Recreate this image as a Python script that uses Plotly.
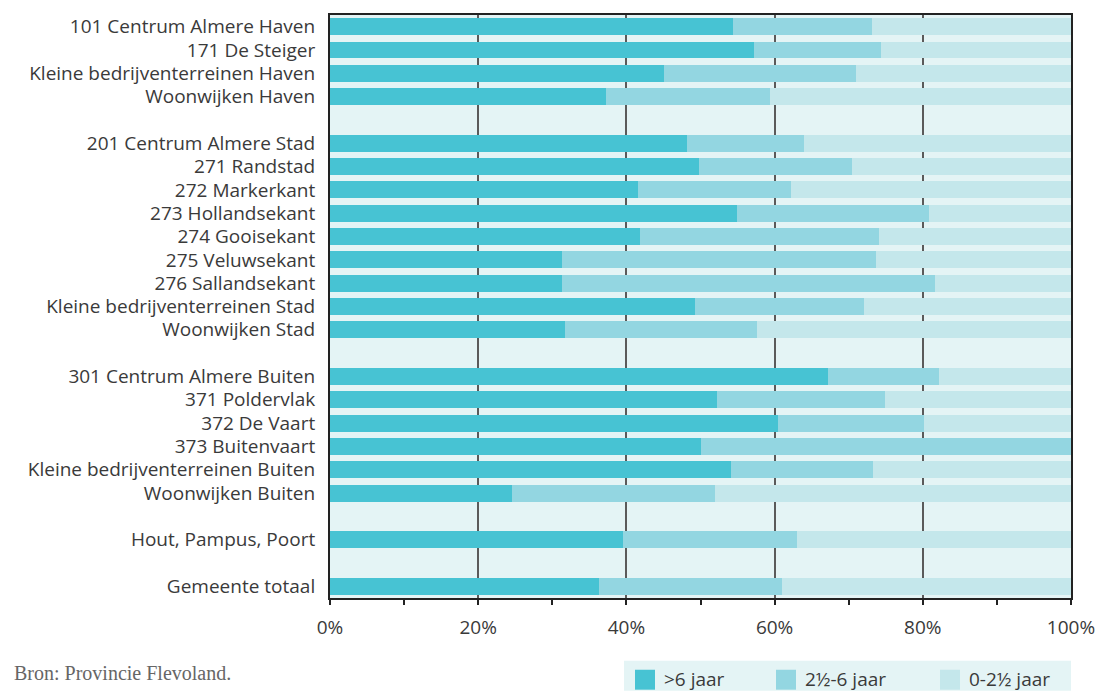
import plotly.graph_objects as go

# categories top to bottom, blanks are the group gaps
categories = [
    '101 Centrum Almere Haven', '171 De Steiger', 'Kleine bedrijventerreinen Haven', 'Woonwijken Haven',
    ' ',
    '201 Centrum Almere Stad', '271 Randstad', '272 Markerkant', '273 Hollandsekant', '274 Gooisekant',
    '275 Veluwsekant', '276 Sallandsekant', 'Kleine bedrijventerreinen Stad', 'Woonwijken Stad',
    '  ',
    '301 Centrum Almere Buiten', '371 Poldervlak', '372 De Vaart', '373 Buitenvaart',
    'Kleine bedrijventerreinen Buiten', 'Woonwijken Buiten',
    '   ',
    'Hout, Pampus, Poort',
    '    ',
    'Gemeente totaal',
]

# cumulative % (None = gap row)
older_6 = [54.4, 57.2, 45.1, 37.3, None,
           48.2, 49.8, 41.6, 54.9, 41.8, 31.3, 31.3, 49.3, 31.7, None,
           67.2, 52.2, 60.5, 50.1, 54.1, 24.6, None,
           39.6, None, 36.3]
upto_6 = [73.2, 74.4, 71.0, 59.4, None,
          64.0, 70.5, 62.2, 80.9, 74.1, 73.7, 81.6, 72.1, 57.6, None,
          82.2, 74.9, 80.1, 100.0, 73.3, 52.0, None,
          63.0, None, 61.0]

series_names = ['>6 jaar', '2\u00bd-6 jaar', '0-2\u00bd jaar']
colors = ['#47c3d3', '#93d6e1', '#c4e7eb']

seg1 = [a for a in older_6]
seg2 = [None if a is None else round(b - a, 1) for a, b in zip(older_6, upto_6)]
seg3 = [None if b is None else round(100 - b, 1) for b in upto_6]

FONT = 'Open Sans'
TXT = '#3a3a3a'

# page has an 8px body margin, so the figure is a bit smaller than the window
W, H = 1098, 683
L, R, T, B = 322, 35, 5, 93
PW, PH = W - L - R, H - T - B


def px(x):  # figure px -> paper x
    return (x - L) / PW


def py(y):  # figure px (from top) -> paper y
    return 1 - (y - T) / PH


fig = go.Figure()
for name, vals, col in zip(series_names, [seg1, seg2, seg3], colors):
    fig.add_trace(go.Bar(y=categories, x=vals, name=name, orientation='h',
                         marker=dict(color=col, line=dict(width=0)), showlegend=False))

fig.update_layout(
    width=W, height=H, barmode='stack', bargap=0.275,
    margin=dict(l=L, r=R, t=T, b=B),
    plot_bgcolor='#e4f4f5', paper_bgcolor='white',
    font=dict(family=FONT, size=19, color=TXT),
    xaxis=dict(range=[0, 100], tickvals=[0, 20, 40, 60, 80, 100],
               ticktext=['0%', '20%', '40%', '60%', '80%', '100%'],
               showgrid=True, gridcolor='#5a5a5a', gridwidth=1.5,
               showline=True, linecolor='#222', linewidth=2, mirror=True,
               ticks='outside', ticklen=5, tickcolor='#222', tickwidth=1.5,
               ticklabelstandoff=6,
               minor=dict(dtick=10, ticks='outside', ticklen=5, tickcolor='#222', tickwidth=1.5),
               zeroline=False, fixedrange=True),
    yaxis=dict(categoryorder='array', categoryarray=categories, autorange='reversed',
               showline=True, linecolor='#222', linewidth=2, mirror=True,
               showgrid=False, ticks='', ticklabelstandoff=9, fixedrange=True),
)

# legend drawn as a strip below the plot
fig.add_shape(type='rect', xref='paper', yref='paper', x0=px(616), x1=1.0,
              y0=py(H), y1=py(653), fillcolor='#e4f4f5', line=dict(width=0), layer='below')
leg_x = [627, 768, 932]
for name, col, lx in zip(series_names, colors, leg_x):
    fig.add_shape(type='rect', xref='paper', yref='paper',
                  x0=px(lx), x1=px(lx + 20), y0=py(682), y1=py(662),
                  fillcolor=col, line=dict(width=0))
    fig.add_annotation(text=name, xref='paper', yref='paper', x=px(lx + 27), y=py(671),
                       xanchor='left', yanchor='middle', showarrow=False,
                       font=dict(family=FONT, size=19, color=TXT))

fig.add_annotation(text='Bron: Provincie Flevoland.', xref='paper', yref='paper',
                   x=px(4), y=py(665), xanchor='left', yanchor='middle',
                   showarrow=False, font=dict(family='Liberation Serif', size=20, color='#666'))

fig.write_html('out.html')
